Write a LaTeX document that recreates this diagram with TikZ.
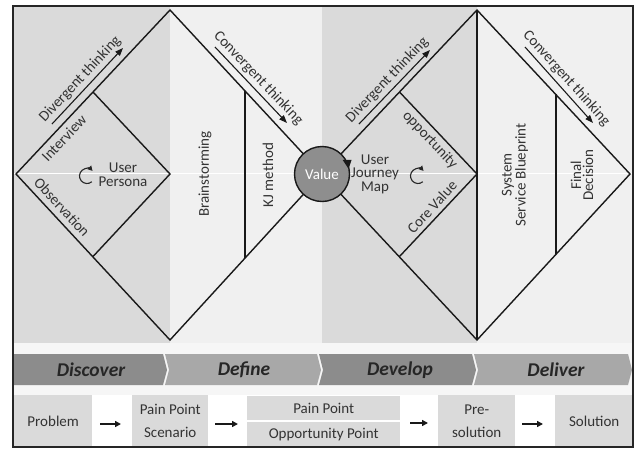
\documentclass[tikz,border=0pt]{standalone}
\usepackage{fontspec}
\setmainfont{Carlito}
\usetikzlibrary{arrows.meta}
\definecolor{regA}{HTML}{DADADA}
\definecolor{regB}{HTML}{F0F0F0}
\definecolor{chevDark}{HTML}{8C8C8C}
\definecolor{chevLight}{HTML}{A8A8A8}
\definecolor{boxGray}{HTML}{DADADA}
\definecolor{txtGray}{HTML}{333333}
\definecolor{valGray}{HTML}{8E8E8E}
\definecolor{stripGray}{HTML}{F6F6F6}
\begin{document}
\begin{tikzpicture}[x=1pt,y=-1pt,
  edge/.style={line width=1.4pt, draw=black!90},
  lbl/.style={font=\fontsize{15}{14}\selectfont, text=txtGray, inner sep=1pt, align=center},
  think/.style={-{Triangle[length=8pt,width=6pt]}, line width=1.1pt, draw=black!90},
  chevtxt/.style={font=\fontsize{19.5}{19.5}\selectfont\bfseries\itshape, text=black!85},
  stepbox/.style={fill=boxGray, font=\fontsize{15}{23}\selectfont, text=txtGray, align=center, inner sep=0pt, anchor=north west},
  flow/.style={-{Triangle[length=6pt,width=6pt]}, line width=1.5pt, draw=black!90},
  cyc/.style={-{Triangle[length=5pt,width=5pt]}, line width=1.1pt, draw=black!85}]
\useasboundingbox (0,0) rectangle (639,448);
\fill[white] (0,0) rectangle (639,448);
% regions
\fill[regA] (13,6) rectangle (170,343);
\fill[regB] (170,6) rectangle (322,343);
\fill[regA] (322,6) rectangle (477,343);
\fill[regB] (477,6) rectangle (633,343);
\fill[stripGray] (13,343) rectangle (633,395);
\draw[white, line width=0.9pt] (13,173) -- (633,173);
% coordinates
\coordinate (L1) at (16,174);
\coordinate (T1) at (170,10);
\coordinate (B1) at (170,340);
\coordinate (M) at (322,174);
\coordinate (T2) at (477,10);
\coordinate (B2) at (477,340);
\coordinate (R2) at (630,174);
\coordinate (iT1) at (93,92);
\coordinate (iB1) at (93,256.5);
\coordinate (iR1) at (170,174);
\coordinate (iT2) at (399.5,92);
\coordinate (iB2) at (399.5,256.5);
\coordinate (iR2) at (477,174);
\coordinate (kT) at (245,90.5);
\coordinate (kB) at (245,257.5);
\coordinate (fT) at (556,94.2);
\coordinate (fB) at (556,253.8);
% diamonds
\draw[edge] (M) -- (T1) -- (L1) -- (B1) -- (M);
\draw[edge] (M) -- (T2) -- (R2) -- (B2) -- (M);
\draw[edge] (T2) -- (B2);
\draw[edge] (iT1) -- (iR1) -- (iB1);
\draw[edge] (iT2) -- (iR2) -- (iB2);
\draw[edge] (kT) -- (kB);
\draw[edge] (fT) -- (fB);
% value circle
\node[circle, fill=valGray, draw=black!90, line width=1.4pt, minimum size=55pt, inner sep=0pt,
      font=\fontsize{15}{15}\selectfont, text=white] (val) at (M) {Value};
\fill[black!90] ([shift={(M)}]24:27.5pt) ++(-4.5pt,3pt) -- ++(9pt,0pt) -- ++(-3pt,-9pt) -- cycle;
% thinking arrows
\draw[think] (52,124) -- node[midway, above=2pt, sloped, lbl] (dv1) {Divergent thinking} (123,48);
\draw[think] (215,47) -- node[midway, above=2pt, sloped, lbl] (cv1) {Convergent thinking} (287,123);
\draw[think] (359,124) -- node[midway, above=2pt, sloped, lbl] (dv2) {Divergent thinking} (430,50);
\draw[think] (525,47) -- node[midway, above=2pt, sloped, lbl] (cv2) {Convergent thinking} (593,123);
% inner labels
\node[lbl, rotate=46.6] (intv) at (64,138) {Interview};
\node[lbl, rotate=-47.3] (obs) at (62,207) {Observation};
\node[lbl] (persona) at (123,175) {User\\Persona};
\node[lbl, rotate=90] (brain) at (205,174) {Brainstorming};
\node[lbl, rotate=90] (kj) at (268,175) {KJ method};
\node[lbl, rotate=-46.6] (opp) at (430,140) {opportunity};
\node[lbl, rotate=47.3] (core) at (432,207) {Core Value};
\node[lbl, font=\fontsize{15}{13.5}\selectfont] (ujm) at (375,174) {User\\Journey\\Map};
\node[lbl, rotate=90] (ssb) at (515,175) {System\\Service Blueprint};
\node[lbl, rotate=90, font=\fontsize{15}{12}\selectfont] (fd) at (582,175) {Final\\Decision};
% cycle arrows
\draw[cyc] ([shift={(87,176)}]-50:7.5pt) arc[start angle=-50, end angle=-318, radius=7.5pt];
\draw[cyc] ([shift={(418,176)}]-50:7.5pt) arc[start angle=-50, end angle=-318, radius=7.5pt];
% chevrons
\fill[chevDark] (13,354) -- (163,354) -- (167,370) -- (163,385) -- (13,385) -- cycle;
\fill[chevLight] (165,354) -- (317,354) -- (321,370) -- (317,385) -- (165,385) -- (169,370) -- cycle;
\fill[chevDark] (319,354) -- (472,354) -- (476,370) -- (472,385) -- (319,385) -- (323,370) -- cycle;
\fill[chevLight] (474,354) -- (628,354) -- (632,370) -- (628,385) -- (474,385) -- (478,370) -- cycle;
\node[chevtxt] (disc) at (91,370) {Discover};
\node[chevtxt] (defi) at (244,370) {Define};
\node[chevtxt] (deve) at (400,370) {Develop};
\node[chevtxt] (deli) at (556,370) {Deliver};
% bottom boxes
\fill[white] (13,395) rectangle (633,447);
\node[stepbox, minimum width=78pt, minimum height=52pt] (prob) at (14,395) {Problem};
\node[stepbox, minimum width=76pt, minimum height=52pt] (pps) at (132,395) {Pain Point\\Scenario};
\node[stepbox, minimum width=153pt, minimum height=24pt] (pp) at (247,396) {Pain Point};
\node[stepbox, minimum width=153pt, minimum height=25pt] (op) at (247,422) {Opportunity Point};
\node[stepbox, minimum width=77pt, minimum height=52pt] (pres) at (438,395) {Pre-\\solution};
\node[stepbox, minimum width=78pt, minimum height=52pt] (sol) at (555,395) {Solution};
\draw[flow, shorten <=8pt, shorten >=11pt] (prob.east |- 0,424) -- (pps.west |- 0,424);
\draw[flow, shorten <=7pt, shorten >=9pt] (pps.east |- 0,424) -- (pp.west |- 0,424);
\draw[flow, shorten <=10pt, shorten >=10pt] (pp.east |- 0,423) -- (pres.west |- 0,423);
\draw[flow, shorten <=7pt, shorten >=12pt] (pres.east |- 0,424) -- (sol.west |- 0,424);
% frame
\draw[line width=1.5pt, draw=black!85] (13,6) rectangle (633,447);
\end{tikzpicture}
\end{document}
